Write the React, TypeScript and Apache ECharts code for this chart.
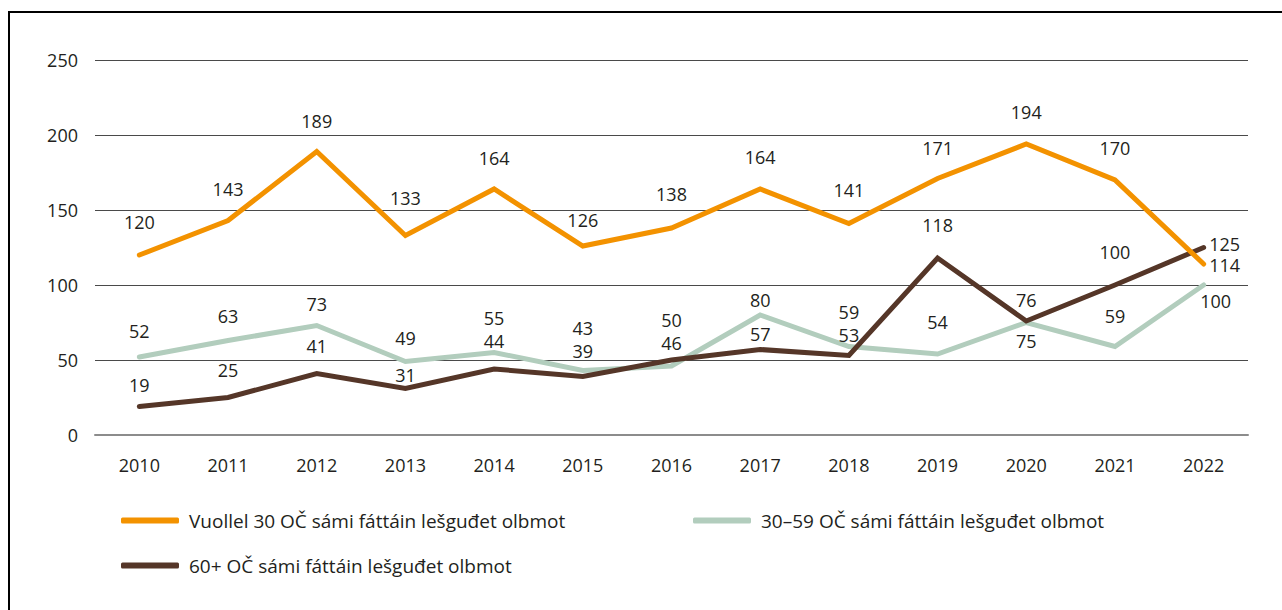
import React, { useEffect, useRef } from "react";
import * as echarts from "echarts";

const years = ["2010", "2011", "2012", "2013", "2014", "2015", "2016", "2017", "2018", "2019", "2020", "2021", "2022"];
const under30 = [120, 143, 189, 133, 164, 126, 138, 164, 141, 171, 194, 170, 114];
const age30to59 = [52, 63, 73, 49, 55, 43, 46, 80, 59, 54, 75, 59, 100];
const age60plus = [19, 25, 41, 31, 44, 39, 50, 57, 53, 118, 76, 100, 125];
const seriesNames = [
  "Vuollel 30 OČ sámi fáttáin lešguđet olbmot",
  "30–59 OČ sámi fáttáin lešguđet olbmot",
  "60+ OČ sámi fáttáin lešguđet olbmot",
];

// label placement (offset of label centre from the point, in px)
const under30LabelDx = [0, 0, 0, 0, 0, 0, 0, 0, 0, 0, 0, 0, 21];
const under30LabelDy = [-33, -32, -31, -38, -31, -26, -34, -32, -34, -31, -32, -32, 1];
const mid59LabelDx = [0, 0, 0, 0, 0, 0, 0, 0, 0, 0, 0, 0, 12];
const mid59LabelDy = [-26, -25, -22, -24, -35, -43, -23, -15, -35, -32, 18, -31, 16];
const over60LabelDx = [0, 0, 0, 0, 0, 0, 0, 0, 0, 0, 0, 0, 21];
const over60LabelDy = [-22, -28, -28, -14, -28, -26, -40, -16, -21, -33, -21, -33, -4];

const FONT = "'Open Sans', 'Noto Sans', sans-serif";
const TEXT = "#231f20";

function buildData(values: number[], dx: number[], dy: number[]) {
  return values.map((v, i) => ({
    value: v,
    label: { offset: [dx[i], dy[i]] },
  }));
}

function lineSeries(name: string, values: number[], dx: number[], dy: number[], color: string, z: number) {
  return {
    name,
    type: "line",
    z,
    data: buildData(values, dx, dy),
    symbol: "circle",
    symbolSize: 2,
    showSymbol: true,
    itemStyle: { color },
    lineStyle: { color, width: 5, cap: "round", join: "miter" },
    label: {
      show: true,
      position: "inside",
      color: TEXT,
      fontFamily: FONT,
      fontSize: 18,
      lineHeight: 14,
    },
    emphasis: { disabled: true },
  };
}

export default function App() {
  const ref = useRef<HTMLDivElement>(null);
  useEffect(() => {
    if (!ref.current) return;
    const chart = echarts.init(ref.current, undefined, { renderer: "svg" });
    chart.setOption({
      animation: false,
      backgroundColor: "#ffffff",
      textStyle: { fontFamily: FONT },
      grid: { left: 95, right: 34, top: 60, bottom: 175, containLabel: false },
      xAxis: {
        type: "category",
        data: years,
        boundaryGap: true,
        axisLine: { show: true, lineStyle: { color: "#8c8c8c", width: 2 } },
        axisTick: { show: false },
        axisLabel: { color: TEXT, fontSize: 18, fontFamily: FONT, margin: 21 },
        splitLine: { show: false },
      },
      yAxis: {
        type: "value",
        min: 0,
        max: 250,
        interval: 50,
        axisLine: { show: false },
        axisTick: { show: false },
        axisLabel: { color: TEXT, fontSize: 18, fontFamily: FONT, margin: 17 },
        splitLine: { show: true, lineStyle: { color: "#4a4a4a", width: 1 } },
      },
      legend: [
        {
          data: [seriesNames[0], seriesNames[2]],
          orient: "vertical",
          left: 116,
          top: 506,
          itemWidth: 58,
          itemHeight: 6,
          itemGap: 26,
          icon: "roundRect",
          textStyle: { color: TEXT, fontSize: 19, fontFamily: FONT, padding: [0, 0, 0, 5] },
        },
        {
          data: [seriesNames[1]],
          orient: "vertical",
          left: 688,
          top: 506,
          itemWidth: 58,
          itemHeight: 6,
          icon: "roundRect",
          textStyle: { color: TEXT, fontSize: 19, fontFamily: FONT, padding: [0, 0, 0, 5] },
        },
      ],
      graphic: [
        {
          type: "rect",
          shape: { x: 9, y: 12, width: 1300, height: 700 },
          style: { fill: "none", stroke: "#000000", lineWidth: 2 },
          silent: true,
        },
      ],
      series: [
        lineSeries(seriesNames[1], age30to59, mid59LabelDx, mid59LabelDy, "#b2cdbd", 2),
        lineSeries(seriesNames[2], age60plus, over60LabelDx, over60LabelDy, "#553628", 3),
        lineSeries(seriesNames[0], under30, under30LabelDx, under30LabelDy, "#f39200", 4),
      ],
    });
    return () => chart.dispose();
  }, []);
  return (
    <div
      ref={ref}
      style={{ position: "fixed", left: 0, top: 0, width: 1282, height: 610, background: "#fff" }}
    />
  );
}
